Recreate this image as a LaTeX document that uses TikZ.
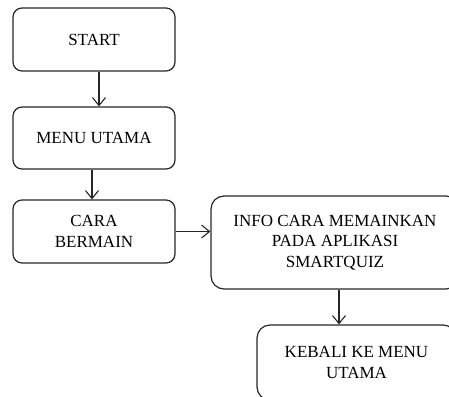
\documentclass[tikz,border=0pt]{standalone}
\usepackage{fontspec}
\setmainfont{Liberation Serif}
\usetikzlibrary{arrows.meta}
\begin{document}
\begin{tikzpicture}[x=1pt,y=-1pt,
  box/.style={draw=black!85, line width=1.2pt, rounded corners=9pt, align=center,
    font=\fontsize{17}{20.5}\selectfont, inner sep=0pt},
  bigbox/.style={box, rounded corners=13pt},
  arr/.style={draw=black!85, line width=1.1pt, -{Straight Barb[length=8pt,width=13pt,line width=1.1pt]}}]
\useasboundingbox (0,0) rectangle (449,396);
\node[box, minimum width=162pt, minimum height=63pt] (start) at (94,39.5) {START};
\node[box, minimum width=162pt, minimum height=62pt] (menu) at (94,138) {MENU UTAMA};
\node[box, minimum width=162pt, minimum height=63pt] (cara) at (94,231.5) {CARA\\BERMAIN};
\node[bigbox, minimum width=248pt, minimum height=93pt] (info) at (335,242.5) {INFO CARA MEMAINKAN\\PADA APLIKASI\\SMARTQUIZ};
\node[bigbox, minimum width=199pt, minimum height=75pt] (kebali) at (356.5,362.5) {KEBALI KE MENU\\UTAMA};
\coordinate (a1) at ([xshift=5pt]start.south);
\coordinate (a2) at ([xshift=-2pt]menu.south);
\coordinate (a3) at ([xshift=4pt]info.south);
\draw[arr] (a1) -- (a1 |- menu.north);
\draw[arr] (a2) -- (a2 |- cara.north);
\draw[arr] (cara.east) -- (cara.east -| info.west);
\draw[arr] (a3) -- (a3 |- kebali.north);
\end{tikzpicture}
\end{document}
